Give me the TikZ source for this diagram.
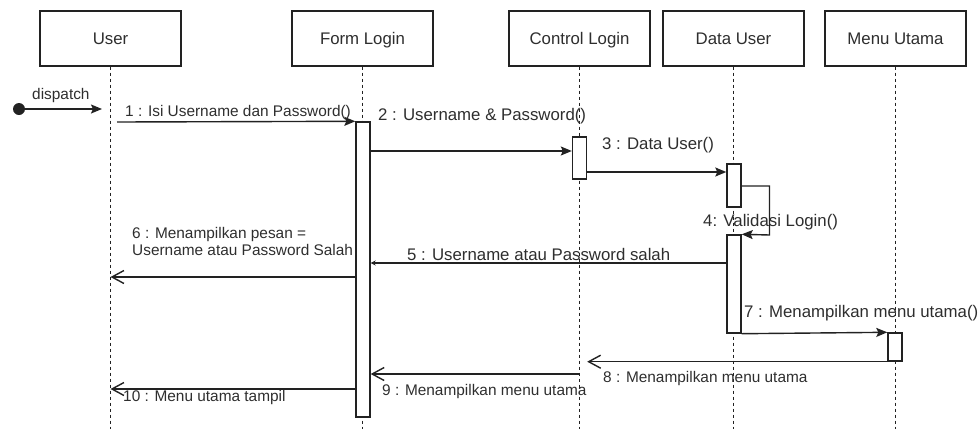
\documentclass[tikz,border=0pt]{standalone}
\usepackage{fontspec}
\setmainfont{Liberation Sans}
\usetikzlibrary{arrows.meta}
\definecolor{ink}{HTML}{222222}
\definecolor{txt}{HTML}{2E2E2E}
\newcommand\fontL{\fontsize{16.8}{20}\selectfont}
\newcommand\fontS{\fontsize{15.4}{17}\selectfont}
\begin{document}
\begin{tikzpicture}[x=1pt,y=-1pt,
  head/.style={draw=ink, line width=1.4pt, fill=white, minimum width=141pt,
    minimum height=55pt, inner sep=0pt, text=txt, font=\fontL,
    text height=12pt, text depth=0pt},
  act/.style={draw=ink, fill=white, line width=1.4pt, inner sep=0pt,
    minimum width=14pt},
  life/.style={draw=ink, line width=1.1pt, dash pattern=on 3pt off 3pt},
  sync/.style={draw=ink, line width=1.4pt,
    -{Stealth[length=11pt,width=9pt,inset=2pt]}},
  reply/.style={draw=ink, line width=1.4pt,
    -{Straight Barb[length=12pt,width=13pt]}},
  lblL/.style={anchor=base west, inner sep=0pt, text=txt, font=\fontL},
  lblS/.style={anchor=base west, inner sep=0pt, text=txt, font=\fontS},
]
\useasboundingbox (0,0) rectangle (979,429);

% participants
\node[head] (user) at (110.5,38.5) {User};
\node[head] (form) at (362.5,38.5) {Form Login};
\node[head] (ctrl) at (579.5,38.5) {Control Login};
\node[head] (data) at (733.5,38.5) {Data User};
\node[head] (menu) at (895.5,38.5) {Menu Utama};

% lifelines
\foreach \p in {user,form,ctrl,data,menu}{
  \draw[life] (\p.south) -- (\p.south |- 0,429);
}

% activation bars
\node[act, minimum height=295pt] (aF) at (363,269.5) {};
\node[act, minimum height=42pt] (aC) at (579.5,158) {};
\node[act, minimum height=43pt] (aD1) at (734,185.5) {};
\node[act, minimum height=98pt] (aD2) at (734,284) {};
\node[act, minimum height=28pt] (aM) at (895,347) {};

% initial dispatch
\node[circle, fill=ink, minimum size=12pt, inner sep=0pt] (start) at (19,109) {};
\coordinate (dispEnd) at (102,109);
\draw[sync] (start) -- (dispEnd);
\node[lblS] (tDisp) at (32,99.5) {dispatch};

% messages
\coordinate (m1) at (117,122);
\draw[sync] (m1) -- (aF.north west);
\draw[sync] (aF.east |- 0,151) -- (aC.west |- 0,151);
\draw[sync] (aC.east |- 0,172) -- (aD1.west |- 0,172);
\coordinate (selfA) at (769.5,186);
\coordinate (selfB) at (769.5,235);
\draw[sync] (aD1.east |- selfA) -- (selfA) -- (selfB) -- (aD2.north east);
\draw[draw=ink, line width=1.4pt, -{Stealth[length=5pt,width=5pt]}]
  (aD2.west |- 0,263) -- (aF.east |- 0,263);
\draw[reply] (aF.west |- 0,277) -- (user |- 0,277);
\draw[sync] (aD2.south east) -- (aM.north west);
\draw[reply] (aM.south west) -- (aC.east |- aM.south);
\draw[reply] (ctrl |- 0,374) -- (aF.east |- 0,374);
\draw[reply] (aF.west |- 0,389) -- (user |- 0,389);

% message labels
\node[lblS] (t1) at (125,116.5) {1 : Isi Username dan Password()};
\node[lblL] (t2) at (378,120) {2 : Username \& Password()};
\node[lblL] (t3) at (602,149) {3 : Data User()};
\node[lblL] (t4) at (703,226) {4: Validasi Login()};
\node[lblL] (t5) at (407,260.5) {5 : Username atau Password salah};
\node[lblS] (t6a) at (132,238) {6 : Menampilkan pesan =};
\node[lblS] (t6b) at (132,255) {Username atau Password Salah};
\node[lblL] (t7) at (744,317) {7 : Menampilkan menu utama()};
\node[lblS] (t8) at (603,382) {8 : Menampilkan menu utama};
\node[lblS] (t9) at (382,395.5) {9 : Menampilkan menu utama};
\node[lblS] (t10) at (123,401) {10 : Menu utama tampil};
\end{tikzpicture}
\end{document}
